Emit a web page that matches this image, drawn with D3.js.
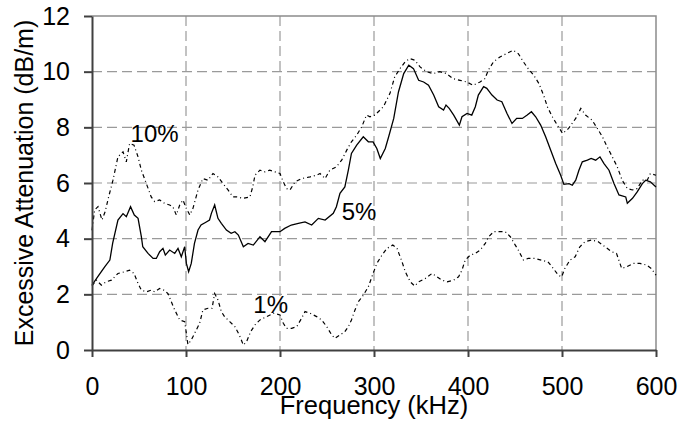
<!DOCTYPE html>
<html>
<head>
<meta charset="utf-8">
<script src="https://cdn.jsdelivr.net/npm/d3@7"></script>
<style>
  html, body { margin: 0; padding: 0; background: #fff; }
  svg { display: block; }
  text { font-family: "Liberation Sans", Arial, sans-serif; fill: #000; }
</style>
</head>
<body>
<svg id="chart" width="681" height="428"></svg>
<script>
// Excessive attenuation vs. frequency for three concentrations
const freq5 = [0,6,13.5,19,22,27.6,33,36.5,41,45,49,52.5,54,59.6,65,68.4,72,75.5,78,82.6,88,91.5,95,98.6,100.4,102.8,105.6,109,112.8,116,121.6,125,127,130.5,134,137.6,143,148,152,155.7,161,166,171.6,178.7,184,191,200,205,212,219.5,226.6,233.7,240.8,248,256.7,260,263.8,269,272.7,276,281.6,288.6,294,299,303,306.7,312,315.6,321,326,331.6,337,342,347.5,352.8,358,363.5,368.8,374,376.6,380,384.8,390.8,393.6,399,404,407.8,411,416.6,420,425.5,431,436,441.5,446.8,451.8,457.8,463,467.5,472,477.3,482.6,488,493.3,498.6,502,507.5,511,514.6,518,521.6,527,531,535.8,540.4,544.7,550,555.3,560.6,567.8,569.5,575,580,585.5,589,594,600];
const att5 = [2.33,2.63,2.99,3.23,3.84,4.67,4.9,4.79,5.15,4.85,4.73,4.07,3.71,3.47,3.29,3.29,3.53,3.65,3.41,3.59,3.47,3.65,3.35,3.71,3.11,2.81,3.11,3.83,4.31,4.49,4.6,4.67,4.91,5.21,4.73,4.55,4.31,4.19,4.25,4.13,3.71,3.83,3.77,4.07,3.89,4.25,4.25,4.37,4.49,4.55,4.6,4.49,4.73,4.67,4.91,5.15,5.63,5.86,6.46,7.06,7.36,7.66,7.48,7.48,7.24,6.88,7.24,7.66,8.32,9.27,9.93,10.23,10.11,9.69,9.63,9.51,9.16,8.74,8.62,8.8,8.68,8.44,8.08,8.38,8.5,8.44,8.74,9.16,9.46,9.4,9.16,8.98,8.92,8.5,8.14,8.32,8.32,8.44,8.56,8.38,8.08,7.66,7.18,6.7,6.28,5.95,5.98,5.92,6.1,6.46,6.76,6.82,6.88,6.82,6.94,6.7,6.46,5.98,5.57,5.5,5.27,5.45,5.68,5.98,6.1,6.04,5.86];

const freq10 = [0,2.8,6.4,10.6,14,17.7,22.3,27.6,33,36.5,40,44.7,49,52.5,57.8,63,66.7,72,77.3,82.6,86,89.7,93.3,96.8,100.3,104,107.4,112.8,118,123.4,128.7,134,139.4,144.7,150,154,161,168,171,173.4,178.7,184,189,194.7,200,203.5,207,210.6,216,223,232,239,242.6,248,253,260,265.6,271,276,281.6,287,292,295.7,301,310,317,322,327.7,333,338,343.6,349,356,363,370,377,384,391.5,398.6,405.6,412.8,418,421.6,427,434,441,448.2,453.5,459,464,470,475.5,481,484.4,489.7,495,500.7,507,514.6,520,525,532,537.6,543,548,553.5,558.8,564,569.5,574.8,580,585.5,590.7,594,600];
const att10 = [4.3,5.03,5.15,4.67,4.97,5.5,6.1,6.94,7.12,6.76,7.42,7.36,6.94,6.46,5.98,5.5,5.33,5.39,5.27,5.21,5.15,4.85,5.21,5.39,5.09,4.85,5.09,5.75,6.16,6.1,6.34,6.22,5.98,5.75,5.5,5.5,5.45,5.5,5.86,6.28,6.46,6.4,6.46,6.4,6.34,6.04,5.8,5.75,6.04,6.16,6.22,6.28,6.34,6.16,6.46,6.58,6.82,7.18,7.48,7.72,8.02,8.44,8.38,8.44,8.74,9.22,9.81,10.11,10.35,10.47,10.41,10.17,10.0,9.93,10.0,9.93,9.75,9.69,9.63,9.51,9.63,9.75,10.05,10.35,10.53,10.65,10.77,10.65,10.35,10.11,9.87,9.57,9.1,8.74,8.38,8.08,7.78,7.96,8.32,8.68,8.44,8.26,7.96,7.66,7.3,6.94,6.58,6.1,5.8,5.75,5.8,6.1,6.1,6.34,6.28];

const freq1 = [0,4.6,10,15.2,20.6,27.6,34.8,40,44.7,49,52.5,57.8,63,66.7,72,76.6,80.8,84.4,88,93.3,98.6,100.4,102,105.6,109.2,114.5,118,123.4,127.7,130.5,134,137.6,141,146.5,152,156.7,161,164.5,168.8,173.4,178.7,185.8,193,200,203.5,207,212.4,217.8,223,226.6,232,239,244.4,249.7,255,258.5,263.8,269,272.7,276,279.8,283.3,288.6,294,299,303,308.5,313.8,320,324.5,329.8,333.3,338.6,343.3,347.5,354.6,361.7,367,372.3,377.7,384.8,390,393.6,397,402.4,407.8,413,418.4,422,427.3,432.7,439.7,445,450.3,453.5,459,464,471,478,485,490.7,496,499.6,503,508.5,514,519,524.5,531.6,538.6,545.7,552.8,558,563.5,568.8,575.9,583,590,595,600];
const att1 = [2.3,2.51,2.33,2.45,2.51,2.75,2.81,2.87,2.75,2.39,2.15,2.09,2.15,2.09,2.21,2.15,2.03,1.73,1.44,1.08,1.02,0.6,0.2,0.36,0.6,0.96,1.44,1.5,1.5,2.03,1.8,1.38,1.2,1.02,0.84,0.54,0.18,0.3,0.66,0.9,1.08,1.2,1.32,1.26,0.96,0.78,0.78,0.84,1.14,1.38,1.32,1.2,1.08,0.84,0.54,0.42,0.54,0.66,0.84,1.08,1.44,1.73,1.97,2.27,2.75,3.11,3.41,3.65,3.77,3.65,3.17,2.81,2.45,2.3,2.45,2.57,2.75,2.63,2.51,2.45,2.51,2.63,2.87,3.23,3.41,3.47,3.59,3.83,4.07,4.25,4.25,4.25,4.07,3.77,3.59,3.23,3.29,3.29,3.23,3.17,2.93,2.69,2.63,2.93,3.23,3.35,3.71,3.89,3.95,3.89,3.71,3.53,3.47,2.93,2.99,3.11,3.11,3.05,2.93,2.69];

const xTicks = [0, 100, 200, 300, 400, 500, 600];
const yTicks = [0, 2, 4, 6, 8, 10, 12];
const seriesLabels = ["10%", "5%", "1%"];
const xTitle = "Frequency (kHz)";
const yTitle = "Excessive Attenuation (dB/m)";

const svg = d3.select("#chart");
const plotL = 92, plotR = 656, plotT = 16, plotB = 350;

const x = d3.scaleLinear().domain([0, 600]).range([plotL, plotR]);
const y = d3.scaleLinear().domain([0, 12]).range([plotB, plotT]);

// dashed grid
const grid = svg.append("g");
grid.selectAll("line.vg").data(xTicks.filter(d => d > 0 && d < 600)).enter()
  .append("line")
  .attr("x1", d => x(d)).attr("x2", d => x(d))
  .attr("y1", plotT).attr("y2", plotB)
  .attr("stroke", "#9a9a9a").attr("stroke-width", 1.2)
  .attr("stroke-dasharray", "10,5");
grid.selectAll("line.hg").data(yTicks.filter(d => d > 0 && d < 12)).enter()
  .append("line")
  .attr("x1", plotL).attr("x2", plotR)
  .attr("y1", d => y(d)).attr("y2", d => y(d))
  .attr("stroke", "#9a9a9a").attr("stroke-width", 1.2)
  .attr("stroke-dasharray", "10,5");

// top and right frame
svg.append("path")
  .attr("d", `M${plotL},${y(12)}H${x(600)}V${plotB}`)
  .attr("fill", "none").attr("stroke", "#8c8c8c").attr("stroke-width", 1.5);

// series
const line = d3.line().x(d => x(d[0])).y(d => y(d[1]));
const zip = (a, b) => a.map((v, i) => [v, b[i]]);

svg.append("path").datum(zip(freq10, att10))
  .attr("d", line).attr("fill", "none").attr("stroke", "#000")
  .attr("stroke-width", 1.2).attr("stroke-dasharray", "4,3,1,3");
svg.append("path").datum(zip(freq1, att1))
  .attr("d", line).attr("fill", "none").attr("stroke", "#000")
  .attr("stroke-width", 1.2).attr("stroke-dasharray", "4,3,1,3");
svg.append("path").datum(zip(freq5, att5))
  .attr("d", line).attr("fill", "none").attr("stroke", "#000")
  .attr("stroke-width", 1.3);

// axes
const xAxis = svg.append("g").attr("transform", `translate(0,${plotB})`)
  .call(d3.axisBottom(x).tickValues(xTicks).tickSize(7).tickPadding(20).tickSizeOuter(0));
const yAxis = svg.append("g").attr("transform", `translate(${plotL},0)`)
  .call(d3.axisLeft(y).tickValues(yTicks).tickSize(8).tickPadding(14).tickSizeOuter(0));
[xAxis, yAxis].forEach(g => {
  g.select(".domain").attr("stroke", "#404040").attr("stroke-width", 2);
  g.selectAll(".tick line").attr("stroke", "#404040").attr("stroke-width", 2);
  g.selectAll(".tick text").style("font-size", "25px")
    .style("font-family", "'Liberation Sans', Arial, sans-serif").attr("fill", "#000");
});

// titles
svg.append("text").attr("x", (plotL + plotR) / 2).attr("y", 414)
  .attr("text-anchor", "middle").style("font-size", "25.5px").text(xTitle);
svg.append("text").attr("transform", `translate(33,${(plotT + plotB) / 2}) rotate(-90)`)
  .attr("text-anchor", "middle").style("font-size", "25px").text(yTitle);

// series labels
const labelPos = [[41, 7.48], [265.6, 4.67], [171.6, 1.32]];
svg.selectAll("text.lab").data(seriesLabels).enter().append("text")
  .attr("x", (d, i) => x(labelPos[i][0]))
  .attr("y", (d, i) => y(labelPos[i][1]))
  .style("font-size", "24px").text(d => d);
</script>
</body>
</html>
